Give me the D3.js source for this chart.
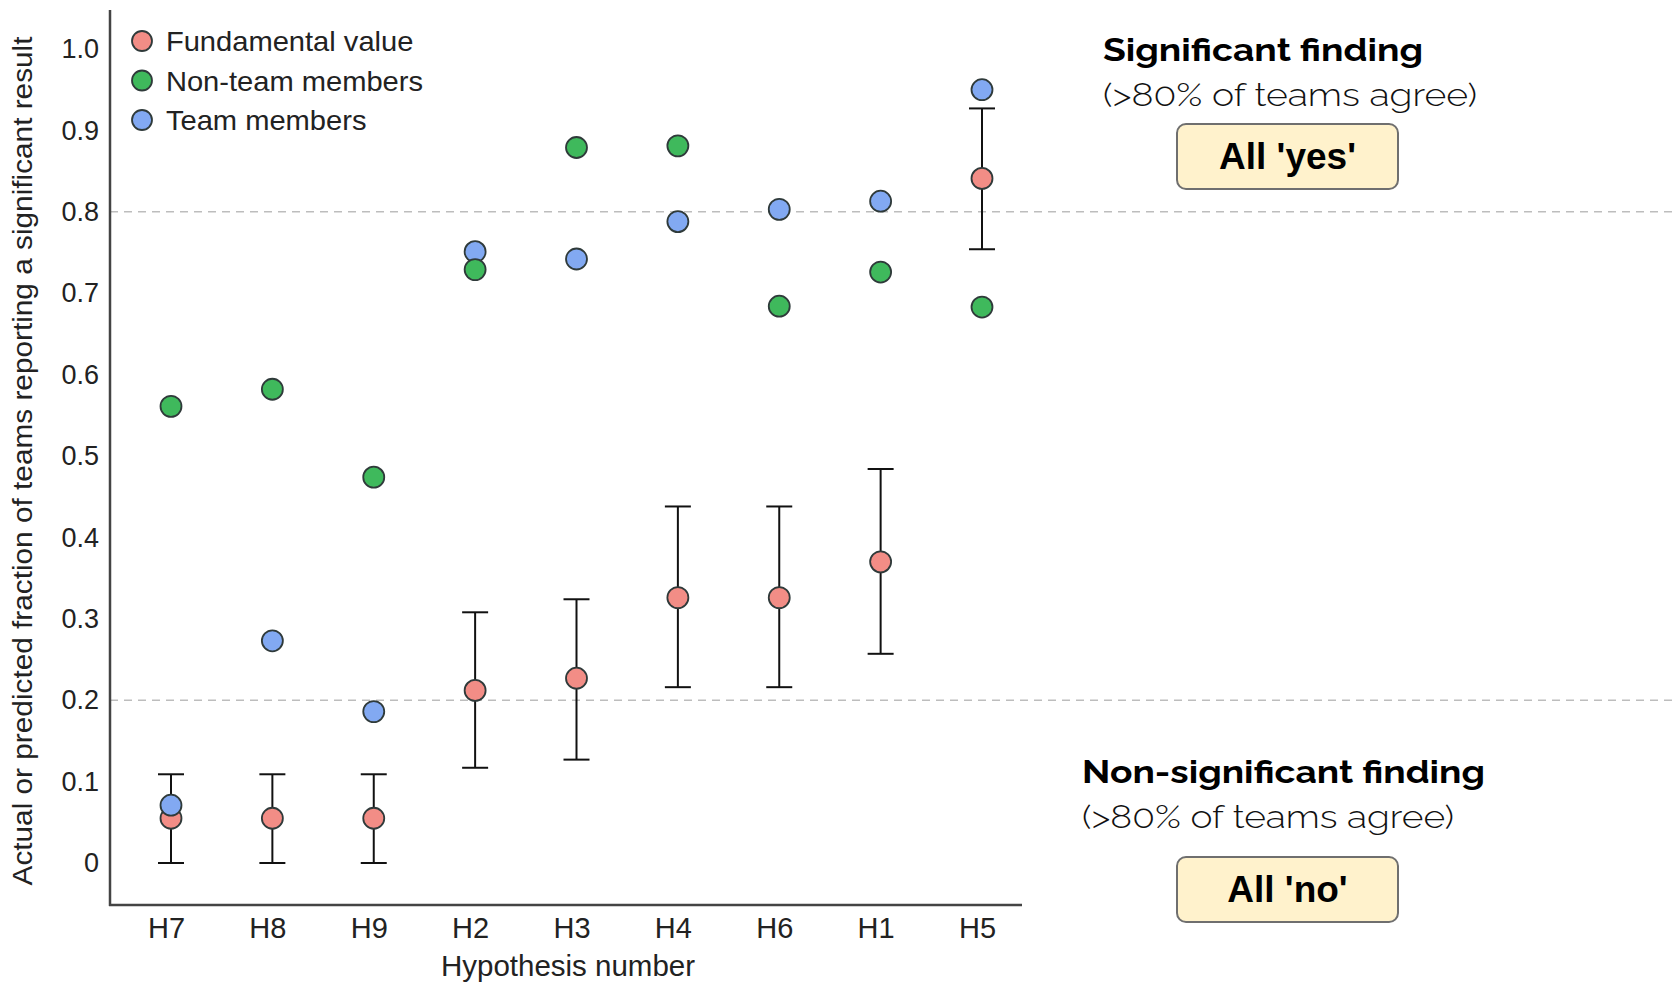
<!DOCTYPE html>
<html>
<head>
<meta charset="utf-8">
<script src="https://cdn.jsdelivr.net/npm/d3@7"></script>
<style>
  body { margin: 0; background: #fff; }
  svg { display: block; }
</style>
</head>
<body>
<svg width="1673" height="982"></svg>
<script>
var hypotheses = ["H7", "H8", "H9", "H2", "H3", "H4", "H6", "H1", "H5"];
var fundamental = [0.055, 0.055, 0.055, 0.212, 0.227, 0.326, 0.326, 0.370, 0.841];
var ciLow = [0.0, 0.0, 0.0, 0.117, 0.127, 0.216, 0.216, 0.257, 0.754];
var ciHigh = [0.109, 0.109, 0.109, 0.308, 0.324, 0.438, 0.438, 0.484, 0.927];
var nonTeam = [0.561, 0.582, 0.474, 0.729, 0.879, 0.881, 0.684, 0.726, 0.683];
var team = [0.071, 0.273, 0.186, 0.751, 0.742, 0.788, 0.803, 0.813, 0.950];
var yTicks = [0, 0.1, 0.2, 0.3, 0.4, 0.5, 0.6, 0.7, 0.8, 0.9, 1.0];
var thresholds = [0.8, 0.2];
var seriesNames = ["Fundamental value", "Non-team members", "Team members"];

var svg = d3.select("svg"),
    width = +svg.attr("width"),
    height = +svg.attr("height");

var color = d3.scaleOrdinal()
    .domain(seriesNames)
    .range(["#f28d86", "#3fb95c", "#82a9f2"]);

var x = d3.scalePoint()
    .domain(hypotheses)
    .range([171, 982]);

var y = d3.scaleLinear()
    .domain([0, 1])
    .range([863, 49]);

var axisFont = "'Liberation Sans', Arial, Helvetica, sans-serif";
var noteFont = "Raleway, Lato, 'Noto Sans', sans-serif";

// threshold lines
svg.selectAll(".thresh")
    .data(thresholds)
    .enter().append("line")
    .attr("class", "thresh")
    .attr("x1", 110).attr("x2", width)
    .attr("y1", function(d) { return y(d); })
    .attr("y2", function(d) { return y(d); })
    .attr("stroke", "#bdbdbd")
    .attr("stroke-width", 1.5)
    .attr("stroke-dasharray", "8,6");

// y axis
var yAxis = svg.append("g")
    .attr("transform", "translate(110,0)")
    .call(d3.axisLeft(y).tickValues(yTicks).tickSize(0).tickPadding(11)
        .tickFormat(function(d) { return d === 0 ? "0" : d3.format(".1f")(d); }));
yAxis.select(".domain").remove();
yAxis.selectAll("text")
    .attr("font-family", axisFont)
    .attr("font-size", 27)
    .attr("fill", "#222");

svg.append("line")
    .attr("x1", 110).attr("x2", 110)
    .attr("y1", 10).attr("y2", 906)
    .attr("stroke", "#444").attr("stroke-width", 2.5);

// x axis
var xAxis = svg.append("g")
    .attr("transform", "translate(0,905)")
    .call(d3.axisBottom(x).tickSize(0).tickPadding(12));
xAxis.select(".domain").remove();
xAxis.selectAll("text")
    .attr("font-family", axisFont)
    .attr("font-size", 29)
    .attr("dx", -5)
    .attr("fill", "#222");

svg.append("line")
    .attr("x1", 109).attr("x2", 1022)
    .attr("y1", 905).attr("y2", 905)
    .attr("stroke", "#444").attr("stroke-width", 2.5);

svg.append("text")
    .attr("x", 568).attr("y", 976)
    .attr("text-anchor", "middle")
    .attr("font-family", axisFont)
    .attr("font-size", 29.5)
    .attr("fill", "#222")
    .text("Hypothesis number");

svg.append("text")
    .attr("transform", "translate(32,461) rotate(-90)")
    .attr("text-anchor", "middle")
    .attr("font-family", axisFont)
    .attr("font-size", 27)
    .attr("textLength", 849)
    .attr("lengthAdjust", "spacingAndGlyphs")
    .attr("fill", "#222")
    .text("Actual or predicted fraction of teams reporting a significant result");

// error bars
var rows = hypotheses.map(function(h, i) {
    return { h: h, f: fundamental[i], lo: ciLow[i], hi: ciHigh[i], nt: nonTeam[i], t: team[i] };
});

var err = svg.append("g").attr("stroke", "#111").attr("stroke-width", 2);
err.selectAll(".stem").data(rows).enter().append("line")
    .attr("x1", function(d) { return x(d.h); })
    .attr("x2", function(d) { return x(d.h); })
    .attr("y1", function(d) { return y(d.lo); })
    .attr("y2", function(d) { return y(d.hi); });
err.selectAll(".capLo").data(rows).enter().append("line")
    .attr("x1", function(d) { return x(d.h) - 13; })
    .attr("x2", function(d) { return x(d.h) + 13; })
    .attr("y1", function(d) { return y(d.lo); })
    .attr("y2", function(d) { return y(d.lo); });
err.selectAll(".capHi").data(rows).enter().append("line")
    .attr("x1", function(d) { return x(d.h) - 13; })
    .attr("x2", function(d) { return x(d.h) + 13; })
    .attr("y1", function(d) { return y(d.hi); })
    .attr("y2", function(d) { return y(d.hi); });

// points: fundamental, team, then non-team on top
var layers = [
    { name: "Fundamental value", key: "f" },
    { name: "Team members", key: "t" },
    { name: "Non-team members", key: "nt" }
];
layers.forEach(function(l) {
    svg.append("g").selectAll("circle")
        .data(rows).enter().append("circle")
        .attr("cx", function(d) { return x(d.h); })
        .attr("cy", function(d) { return y(d[l.key]); })
        .attr("r", 10.5)
        .attr("fill", color(l.name))
        .attr("stroke", "#2f3a3a")
        .attr("stroke-width", 1.8);
});

// legend
var legend = svg.append("g").selectAll("g")
    .data(seriesNames).enter().append("g")
    .attr("transform", function(d, i) { return "translate(142," + (41 + i * 39.5) + ")"; });
legend.append("circle")
    .attr("r", 10)
    .attr("fill", function(d) { return color(d); })
    .attr("stroke", "#2f3a3a")
    .attr("stroke-width", 1.8);
legend.append("text")
    .attr("x", 23)
    .attr("dy", "0.36em")
    .attr("font-family", axisFont)
    .attr("font-size", 28)
    .attr("transform", "scale(1.04,1)")
    .attr("fill", "#222")
    .text(function(d) { return d; });

// annotations
var notes = [
    { title: "Significant finding", sub: "(>80% of teams agree)", box: "All 'yes'",
      tx: 1103, ty: 61, tw: 320, sw: 374, bx: 1177, by: 124 },
    { title: "Non-significant finding", sub: "(>80% of teams agree)", box: "All 'no'",
      tx: 1082, ty: 783, tw: 403, sw: 372, bx: 1177, by: 857 }
];
var ann = svg.append("g").selectAll("g").data(notes).enter().append("g");
ann.append("text")
    .attr("x", function(d) { return d.tx; })
    .attr("y", function(d) { return d.ty; })
    .attr("font-family", noteFont)
    .attr("font-weight", 700)
    .attr("font-size", 31)
    .attr("textLength", function(d) { return d.tw; })
    .attr("lengthAdjust", "spacingAndGlyphs")
    .attr("fill", "#000")
    .text(function(d) { return d.title; });
ann.append("text")
    .attr("x", function(d) { return d.tx; })
    .attr("y", function(d) { return d.ty + 45; })
    .attr("font-family", noteFont)
    .attr("font-weight", 300)
    .attr("font-size", 31)
    .attr("textLength", function(d) { return d.sw; })
    .attr("lengthAdjust", "spacingAndGlyphs")
    .attr("fill", "#111")
    .text(function(d) { return d.sub; });
ann.append("rect")
    .attr("x", function(d) { return d.bx; })
    .attr("y", function(d) { return d.by; })
    .attr("width", 221).attr("height", 65)
    .attr("rx", 9)
    .attr("fill", "#fff2cc")
    .attr("stroke", "#6f6f6f")
    .attr("stroke-width", 2);
ann.append("text")
    .attr("x", function(d) { return d.bx + 110.5; })
    .attr("y", function(d) { return d.by + 45; })
    .attr("text-anchor", "middle")
    .attr("font-family", axisFont)
    .attr("font-weight", 700)
    .attr("font-size", 37)
    .attr("fill", "#000")
    .text(function(d) { return d.box; });
</script>
</body>
</html>
